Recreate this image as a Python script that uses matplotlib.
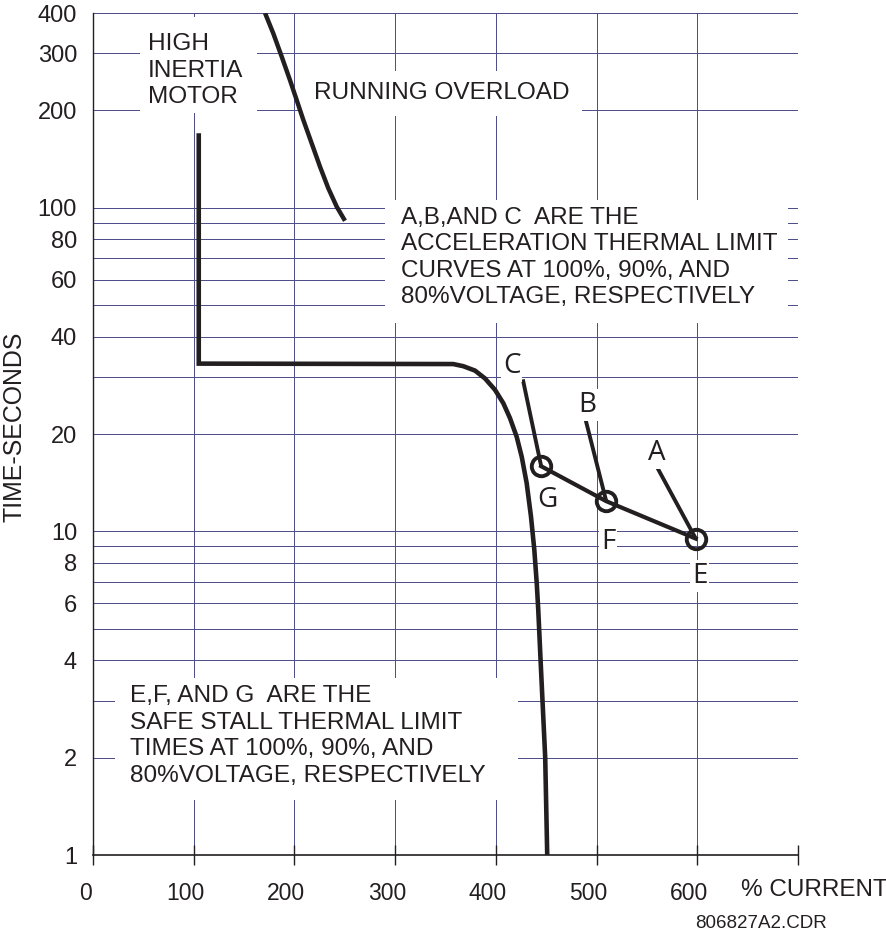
import matplotlib.pyplot as plt
from matplotlib.patches import Rectangle
from matplotlib.transforms import ScaledTranslation

plt.rcParams['font.family'] = 'Liberation Sans'

# running overload curve (% current, seconds)
overload_current = [170.8, 179.0, 187.4, 195.6, 202.3, 208.8, 217.2, 225.4,
                    233.6, 242.0, 250.2]
overload_time = [400, 346, 293, 248, 215, 187, 158, 134, 115, 100.8, 91.2]

# high inertia motor curve
motor_current = [105, 105, 357.7, 367.7, 379.3, 389.2, 399.1, 407.4, 414.0,
                 420.7, 425.7, 430.6, 434.9, 438.2, 440.6, 442.1, 444.4, 449, 451]
motor_time = [170, 33, 32.9, 32.4, 31.4, 29.7, 27.4, 24.9, 22.4,
              19.6, 17.0, 14.1, 11.1, 8.76, 6.91, 5.72, 4, 2, 1]

# safe stall thermal limit points G, F, E
stall_labels = ['G', 'F', 'E']
stall_current = [445, 509.6, 598.5]
stall_time = [15.9, 12.4, 9.5]

# acceleration thermal limit curves C, B, A (short stubs ending at the stall points)
accel_labels = ['C', 'B', 'A']
accel_current = [426.8, 489, 559.8]
accel_time = [29.5, 22.2, 15.85]

x_ticks = [0, 100, 200, 300, 400, 500, 600, 700]
x_tick_labels = ['0', '100', '200', '300', '400', '500', '600', '']
y_ticks = [1, 2, 4, 6, 8, 10, 20, 40, 60, 80, 100, 200, 300, 400]
y_grid = [2, 3, 4, 5, 6, 7, 8, 9, 10, 20, 30, 40, 50, 60, 70, 80, 90,
          100, 200, 300, 400]
x_grid = [100, 200, 300, 400, 500, 600, 700]

ink = '#231f20'
grid_col = '#4f4f8c'

fig = plt.figure(figsize=(8.87, 9.34), dpi=100)
ax = fig.add_axes([93 / 887, 1 - 855 / 934, 705 / 887, 842 / 934])
ax.set_yscale('log')
ax.set_xlim(0, 700)
ax.set_ylim(1, 400)

# grid drawn by hand so the text boxes can sit on top of it
ax.hlines(y_grid, 0, 700, color=grid_col, lw=0.7, zorder=1, antialiased=False)
ax.vlines(x_grid, 1, 400, color=grid_col, lw=0.7, zorder=1, antialiased=False)

# white boxes behind the notes
for x0, x1, y0, y1 in [(46.7, 162.8, 196.3, 388.8),
                       (205.5, 485.5, 192.2, 264.7),
                       (290, 690, 44.05, 105.7),
                       (21.8, 422, 1.48, 3.52)]:
    ax.add_patch(Rectangle((x0, y0), x1 - x0, y1 - y0, facecolor='white',
                           edgecolor='none', zorder=2))

ax.plot(overload_current, overload_time, color=ink, lw=3.2, zorder=3,
        solid_capstyle='butt')
ax.plot(motor_current, motor_time, color=ink, lw=3.3, zorder=3,
        solid_joinstyle='miter', solid_capstyle='butt')
ax.plot(stall_current, stall_time, color=ink, lw=3, zorder=3)
for i in range(3):
    ax.plot([accel_current[i], stall_current[i]], [accel_time[i], stall_time[i]],
            color=ink, lw=2.8, zorder=3, solid_capstyle='butt')
ax.plot(stall_current, stall_time, 'o', ms=14, mfc='none', mec=ink, mew=2.8,
        zorder=4)

letter_pos = {'C': (415.7, 30.8), 'B': (490.8, 23.4), 'A': (559.7, 16.6),
              'G': (451, 11.87), 'F': (511.7, 8.82), 'E': (602.4, 6.91)}
for lab in accel_labels + stall_labels:
    lx, ly = letter_pos[lab]
    ax.text(lx, ly, lab, ha='center', va='baseline', fontsize=20,
            family='Open Sans', color=ink, zorder=5,
            bbox=dict(facecolor='white', edgecolor='none', pad=1.5))

ax.text(54.6, 346.2, 'HIGH\nINERTIA\nMOTOR', fontsize=17.6, color=ink,
        va='top', ha='left', linespacing=1.27, zorder=5)
ax.text(219.0, 245.2, 'RUNNING OVERLOAD', fontsize=17.6, color=ink,
        va='top', ha='left', zorder=5)
ax.text(305.5, 100.8, 'A,B,AND C  ARE THE\nACCELERATION THERMAL LIMIT\n'
        'CURVES AT 100%, 90%, AND\n80%VOLTAGE, RESPECTIVELY',
        fontsize=17.5, color=ink, va='top', ha='left', linespacing=1.26, zorder=5)
ax.text(36.9, 3.35, 'E,F, AND G  ARE THE\nSAFE STALL THERMAL LIMIT\n'
        'TIMES AT 100%, 90%, AND\n80%VOLTAGE, RESPECTIVELY',
        fontsize=17.6, color=ink, va='top', ha='left', linespacing=1.27, zorder=5)

# axes look
for side in ['top', 'right']:
    ax.spines[side].set_visible(False)
ax.spines['left'].set_color(ink)
ax.spines['left'].set_linewidth(1.0)
ax.spines['bottom'].set_color(ink)
ax.spines['bottom'].set_linewidth(1.2)

ax.set_xticks(x_ticks)
ax.set_xticklabels(x_tick_labels)
ax.tick_params(axis='x', direction='inout', length=14.4, width=1.0, color=ink,
               labelsize=16.5, labelcolor=ink, pad=12)
shift = ScaledTranslation(-0.08, 0, fig.dpi_scale_trans)
for lbl in ax.get_xticklabels():
    lbl.set_transform(lbl.get_transform() + shift)

ax.set_yticks(y_ticks)
ax.set_yticklabels([str(v) for v in y_ticks])
ax.set_yticks([1, 10, 100], minor=True)
ax.yaxis.set_minor_formatter(plt.NullFormatter())
ax.tick_params(axis='y', which='major', length=0, labelsize=17, labelcolor=ink,
               pad=11.5)
ax.tick_params(axis='y', which='minor', direction='inout', length=14.4,
               width=1.0, color=ink)

fig.text(15 / 887, 1 - 426.5 / 934, 'TIME-SECONDS', rotation=90, fontsize=17.9,
         color=ink, ha='center', va='center')
fig.text(741 / 887, 1 - 890 / 934, '% CURRENT', fontsize=17.5, color=ink,
         ha='left', va='center')
fig.text(695 / 887, 1 - 924 / 934, '806827A2.CDR', fontsize=13.5, color=ink,
         ha='left', va='center')

fig.savefig('out.png', dpi=100)
